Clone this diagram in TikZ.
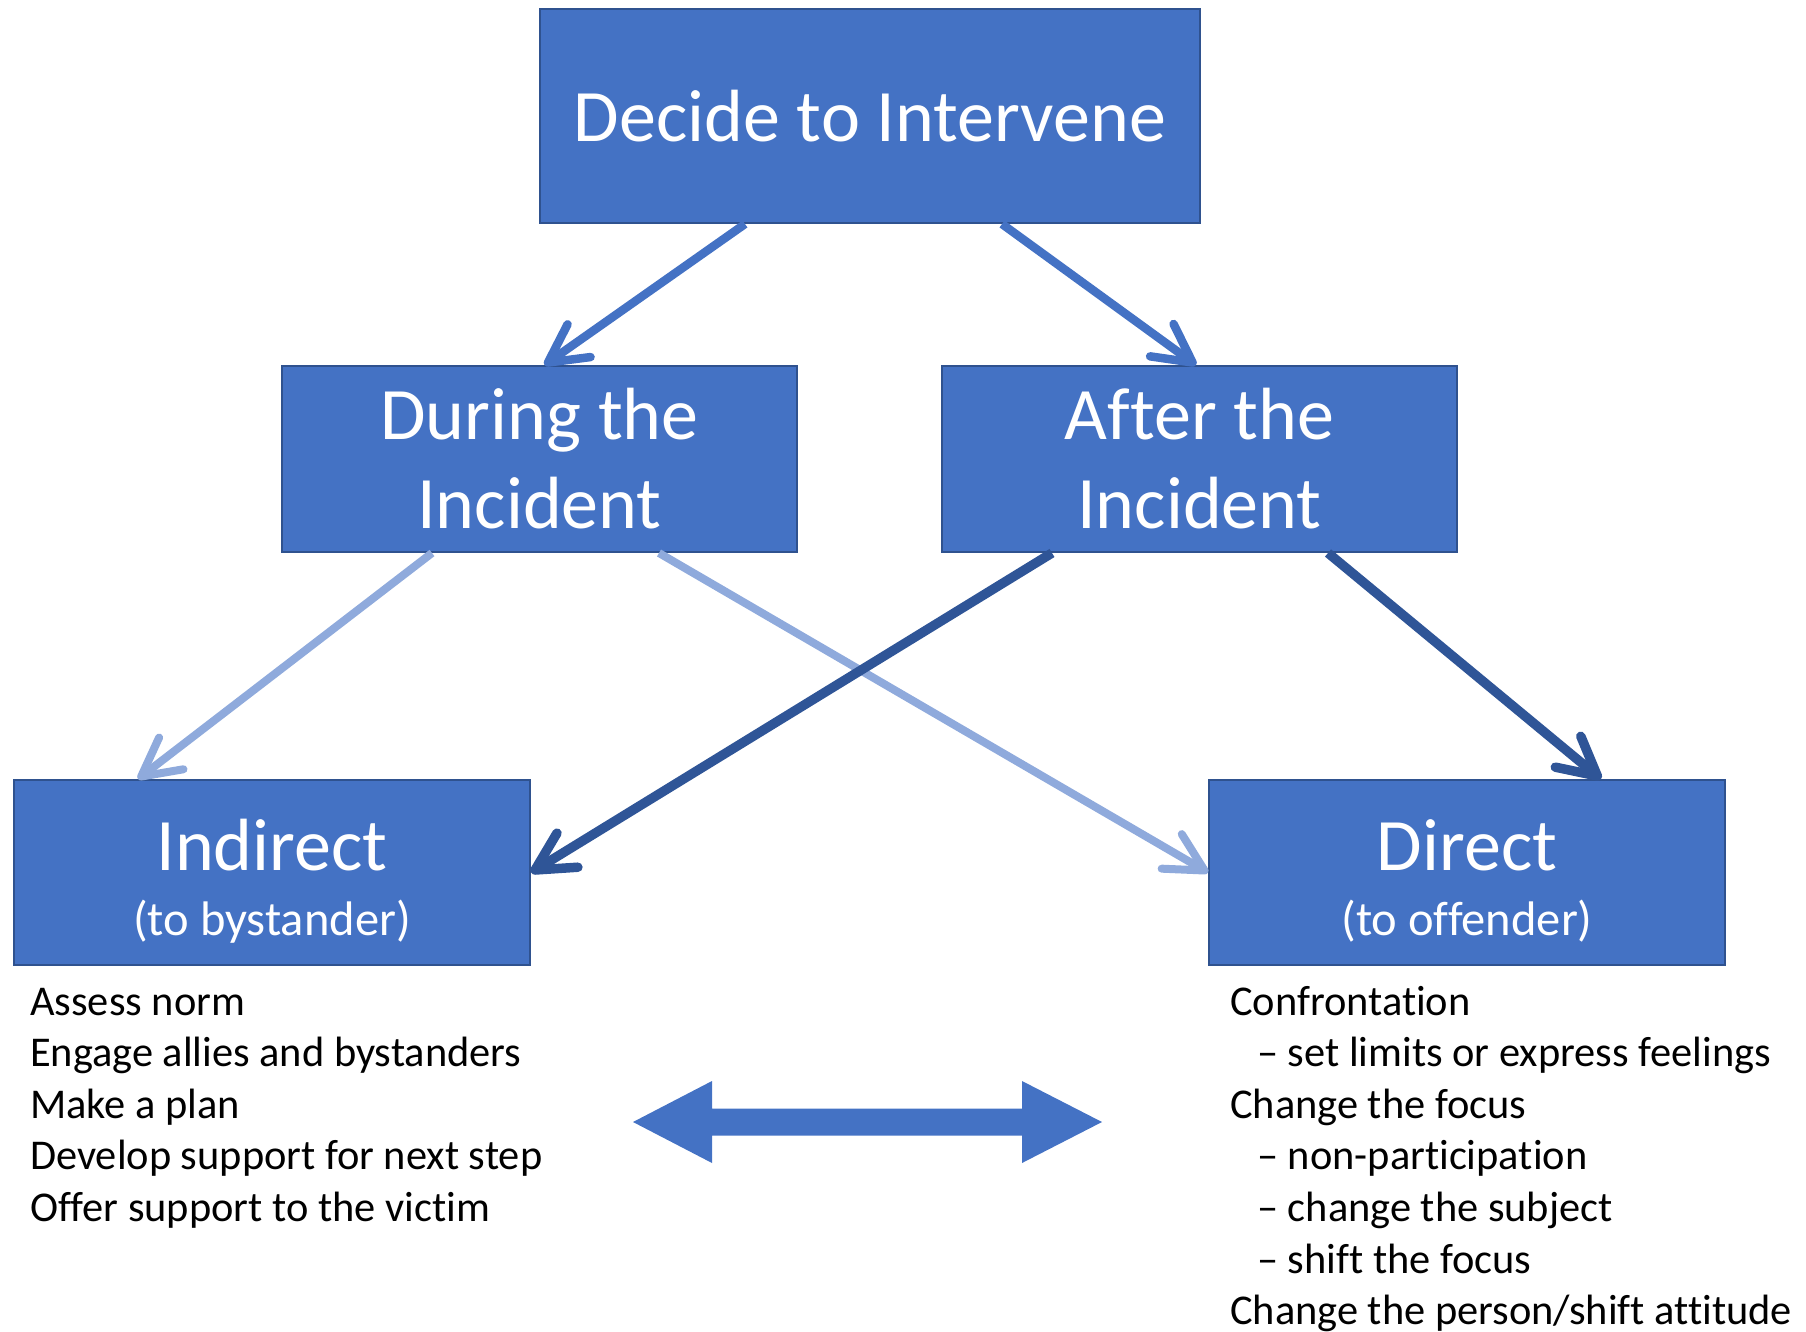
\documentclass[tikz,border=0pt]{standalone}
\usepackage{fontspec}
\setmainfont{Carlito}[Ligatures=NoCommon]
\usetikzlibrary{arrows.meta}
\definecolor{boxblue}{HTML}{4472C4}
\definecolor{boxedge}{HTML}{2F528F}
\definecolor{lightarr}{HTML}{8FAADC}
\definecolor{darkarr}{HTML}{2F5597}
\begin{document}
\begin{tikzpicture}[x=1pt,y=-1pt,
  box/.style={draw=boxedge, fill=boxblue, line width=2pt, text=white, align=center, inner sep=0pt},
  bigfont/.style={font=\fontsize{74}{89}\selectfont},
  arr/.style={-{Straight Barb[length=38pt,width=40pt,round]}},
  listline/.style={anchor=base west, inner sep=0pt, font=\fontsize{42.4}{50}\selectfont, text=black}
]
\useasboundingbox (0,0) rectangle (1806,1332);

\node[box, bigfont, minimum width=660pt, minimum height=214pt] (top) at (870,116) {Decide to Intervene};
\node[box, bigfont, minimum width=515pt, minimum height=186pt] (during) at (539.5,459) {During the\\Incident};
\node[box, bigfont, minimum width=515pt, minimum height=186pt] (after) at (1199.5,459) {After the\\Incident};
\node[box, font=\fontsize{74}{65}\selectfont, minimum width=516pt, minimum height=185pt] (indirect) at (272,872.5) {\rule{0pt}{68pt}Indirect\\{\fontsize{48.5}{58}\selectfont (to bystander)}};
\node[box, font=\fontsize{74}{65}\selectfont, minimum width=516pt, minimum height=185pt] (direct) at (1467,872.5) {\rule{0pt}{68pt}Direct\\{\fontsize{48.5}{58}\selectfont (to offender)}};

\draw[arr, boxblue, line width=8.5pt] ([xshift=-125pt]top.south) -- ([xshift=5pt]during.north);
\draw[arr, boxblue, line width=8.5pt] ([xshift=132pt]top.south) -- ([xshift=-3.5pt]after.north);
\draw[arr, lightarr, line width=8pt] ([xshift=-107.5pt]during.south) -- ([xshift=-134pt]indirect.north);
\draw[arr, lightarr, line width=8pt] ([xshift=119.5pt]during.south) -- (direct.west);
\draw[arr, darkarr, line width=9.5pt] ([xshift=-147.5pt]after.south) -- (indirect.east);
\draw[arr, darkarr, line width=9.5pt] ([xshift=128.5pt]after.south) -- ([xshift=134pt]direct.north);

\fill[boxblue] (633,1122) -- (712,1081) -- (712,1108.5) -- (1022,1108.5) -- (1022,1081)
  -- (1102,1122) -- (1022,1163) -- (1022,1135.5) -- (712,1135.5) -- (712,1163) -- cycle;

\foreach \t [count=\i from 0] in {Assess norm, Engage allies and bystanders, Make a plan, Develop support for next step, Offer support to the victim}
  \node[listline] (l\i) at (30,1015+51.6*\i) {\t};
\foreach \t [count=\i from 0] in {Confrontation, {\hspace{27pt}– set limits or express feelings}, Change the focus, {\hspace{27pt}– non-participation}, {\hspace{27pt}– change the subject}, {\hspace{27pt}– shift the focus}, Change the person/shift attitude}
  \node[listline] (r\i) at (1230,1015+51.6*\i) {\t};
\end{tikzpicture}
\end{document}
